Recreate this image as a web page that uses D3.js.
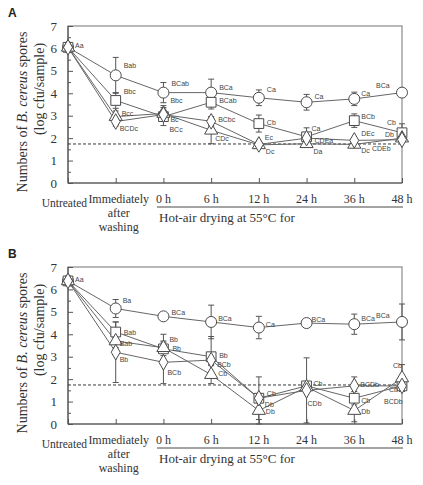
<!DOCTYPE html>
<html><head><meta charset="utf-8">
<script src="https://cdn.jsdelivr.net/npm/d3@7"></script>
<style>body{margin:0;background:#fff}</style>
</head><body>
<svg id="c" width="423" height="485"></svg>
<script>
const categories = ["Untreated","Immediately after washing","0 h","6 h","12 h","24 h","36 h","48 h"];
const yTicks = [0,1,2,3,4,5,6,7];
const detectionLimit = 1.74;
const xGroupTitle = "Hot-air drying at 55\u00B0C for";

// Panel A
const aCircle = [6.05, 4.8, 4.03, 4.03, 3.8, 3.6, 3.75, 4.03];
const aCircleErr = [0.05, 0.8, 0.45, 0.6, 0.35, 0.35, 0.3, 0];
const aCircleLbl = ["Aa","Bab","BCab","BCa","Ca","Ca","Ca","BCa"];
const aSquare = [6.05, 3.68, 2.96, 3.6, 2.65, 2.06, 2.78, 2.24];
const aSquareErr = [0.05, 0.35, 0.4, 0.3, 0.38, 0.4, 0.3, 0.4];
const aSquareLbl = ["","Bbc","BCc","BCab","Cb","Ca","BCb","Cb"];
const aTriangle = [6.05, 2.96, 3.1, 2.35, 1.7, 1.75, 1.72, 2.0];
const aTriangleErr = [0.05, 0.25, 0.35, 0.6, 0.05, 0.15, 0.08, 0.05];
const aTriangleLbl = ["","Bcc","Bbc","CDc","Dc","Da","Dc","Db"];
const aDiamond = [6.05, 2.74, 3.05, 2.75, 1.72, 2.0, 1.9, 1.93];
const aDiamondErr = [0.05, 0.2, 0.2, 0.2, 0.05, 0.1, 0.1, 0.05];
const aDiamondLbl = ["","BCDc","Bc","BCbc","Ec","CDEa","DEc","CDEb"];

// Panel B
const bCircle = [6.38, 5.15, 4.8, 4.55, 4.3, 4.5, 4.45, 4.55];
const bCircleErr = [0.05, 0.4, 0, 0.75, 0.5, 0, 0.45, 0.8];
const bCircleLbl = ["Aa","Ba","BCa","BCa","Ca","BCa","BCa","BCa"];
const bSquare = [6.38, 4.1, 3.35, 3.0, 1.15, 1.7, 1.15, 1.7];
const bSquareErr = [0.05, 0.45, 0.3, 0.9, 0.95, 0.1, 0.3, 0.1];
const bSquareLbl = ["","Bab","Bb","Bb","Cb","Cb","Cb","Cb"];
const bTriangle = [6.38, 3.7, 3.4, 2.2, 0.6, 1.65, 0.6, 2.05];
const bTriangleErr = [0.05, 0.3, 0.6, 0.4, 0.6, 0.1, 0.5, 0.6];
const bTriangleLbl = ["","Bab","Bb","Cb","Db","","Db","Cb"];
const bDiamond = [6.38, 3.2, 2.75, 2.85, 1.15, 1.5, 1.7, 1.7];
const bDiamondErr = [0.05, 1.35, 0.95, 0.2, 0.2, 1.45, 0.4, 0.2];
const bDiamondLbl = ["","Bb","BCb","BCb","Db","CDb","BCDb","BCDb"];

const panels = [
  {name:"A", top:26, bottom:183, series:[
    {shape:"circle", v:aCircle, e:aCircleErr, l:aCircleLbl},
    {shape:"square", v:aSquare, e:aSquareErr, l:aSquareLbl},
    {shape:"triangle", v:aTriangle, e:aTriangleErr, l:aTriangleLbl},
    {shape:"diamond", v:aDiamond, e:aDiamondErr, l:aDiamondLbl}],
   off:{ "circle-0":[7,-2], "circle-1":[8,-10], "circle-2":[8,-10], "circle-3":[8,-6], "circle-4":[8,-9], "circle-5":[8,-6], "circle-6":[7,-6], "circle-7":[-26,-8],
         "square-1":[8,-9], "square-2":[6,12], "square-3":[8,-2], "square-4":[8,-2], "square-5":[5,-9], "square-6":[7,-5], "square-7":[-15,-11],
         "triangle-1":[6,-4], "triangle-2":[7,-13], "triangle-3":[4,8], "triangle-4":[7,6], "triangle-5":[7,7], "triangle-6":[7,6], "triangle-7":[-17,-4],
         "diamond-1":[4,6], "diamond-2":[7,4], "diamond-3":[7,-2], "diamond-4":[6,-7], "diamond-5":[8,2], "diamond-6":[7,-7], "diamond-7":[-30,8]}},
  {name:"B", top:267, bottom:424, series:[
    {shape:"circle", v:bCircle, e:bCircleErr, l:bCircleLbl},
    {shape:"square", v:bSquare, e:bSquareErr, l:bSquareLbl},
    {shape:"triangle", v:bTriangle, e:bTriangleErr, l:bTriangleLbl},
    {shape:"diamond", v:bDiamond, e:bDiamondErr, l:bDiamondLbl}],
   off:{ "circle-0":[7,-2], "circle-1":[7,-8], "circle-2":[8,-4], "circle-3":[7,-4], "circle-4":[7,-4], "circle-5":[5,-4], "circle-6":[7,-6], "circle-7":[-26,-7],
         "square-1":[8,0], "square-2":[6,-10], "square-3":[8,-2], "square-4":[8,-5], "square-5":[7,-3], "square-6":[7,2], "square-7":[-13,3],
         "triangle-1":[4,2], "triangle-2":[9,0], "triangle-3":[7,-2], "triangle-4":[7,0], "triangle-6":[7,0], "triangle-7":[-9,-13],
         "diamond-1":[4,7], "diamond-2":[4,10], "diamond-3":[6,4], "diamond-4":[6,6], "diamond-5":[1,13], "diamond-6":[6,-2], "diamond-7":[-18,15]}}
];

const svg = d3.select("#c");
const x = d3.scalePoint().domain(categories).range([68, 402]).padding(0);
const serif = "'Liberation Serif','Times New Roman',serif";
const sym = {circle:d3.symbolCircle, square:d3.symbolSquare, triangle:d3.symbolTriangle, diamond:d3.symbolDiamond};
const symSize = {circle:95, square:95, triangle:75, diamond:70};
const markStroke = "#4a4a4a";

panels.forEach(p => {
  const g = svg.append("g");
  const y = d3.scaleLinear().domain([0,7]).range([p.bottom, p.top]);

  g.append("rect").attr("x",68).attr("y",p.top).attr("width",402-68).attr("height",p.bottom-p.top)
    .attr("fill","none").attr("stroke","#8a8a8a").attr("stroke-width",1.2);
  g.append("line").attr("x1",68).attr("x2",68).attr("y1",p.top).attr("y2",p.bottom).attr("stroke","#555").attr("stroke-width",1.2);
  g.append("line").attr("x1",68).attr("x2",402).attr("y1",p.bottom).attr("y2",p.bottom).attr("stroke","#555").attr("stroke-width",1.2);

  const yAxis = d3.axisRight(y).tickValues(yTicks).tickSize(5).tickFormat("");
  const ya = g.append("g").attr("transform","translate(68,0)").call(yAxis);
  ya.select(".domain").remove();
  ya.selectAll("line").attr("stroke","#555");
  const yMinor = d3.axisRight(y).tickValues(d3.range(0.5,7,1)).tickSize(3).tickFormat("");
  const ym = g.append("g").attr("transform","translate(68,0)").call(yMinor);
  ym.select(".domain").remove();
  ym.selectAll("line").attr("stroke","#555");
  g.selectAll(".ylab").data(yTicks).join("text")
    .attr("x",57).attr("y",d=>y(d)+4.5).attr("text-anchor","end")
    .attr("font-family",serif).attr("font-size",13).attr("fill","#333").text(d=>d);

  const xAxis = d3.axisTop(x).tickSize(5).tickFormat("");
  const xa = g.append("g").attr("transform",`translate(0,${p.bottom})`).call(xAxis);
  xa.select(".domain").remove();
  xa.selectAll("line").attr("stroke","#555");

  categories.forEach((c,i) => {
    const t = g.append("text").attr("font-family",serif).attr("font-size",12).attr("fill","#333").attr("text-anchor","middle");
    if (i===0) { t.attr("x",87).attr("y",p.bottom+24).attr("text-anchor","end").attr("font-size",11.5).text(c); }
    else if (i===1) {
      const lines = ["Immediately","after","washing"];
      lines.forEach((ln,k)=> t.append("tspan").attr("x",x(c)+3).attr("y",p.bottom+20+k*14).text(ln));
    } else { t.attr("x",x(c)).attr("y",p.bottom+20).text(c); }
  });
  g.append("line").attr("x1",157).attr("x2",403).attr("y1",p.bottom+24).attr("y2",p.bottom+24).attr("stroke","#333").attr("stroke-width",0.9);
  g.append("text").attr("x",159).attr("y",p.bottom+39).attr("font-family",serif).attr("font-size",13).attr("fill","#333").text(xGroupTitle);

  const t1 = g.append("text").attr("transform",`translate(27,${p.bottom-71}) rotate(-90)`).attr("text-anchor","middle")
    .attr("font-family",serif).attr("font-size",14).attr("fill","#333");
  t1.append("tspan").text("Numbers of ");
  t1.append("tspan").attr("font-style","italic").text("B. cereus");
  t1.append("tspan").text(" spores");
  g.append("text").attr("transform",`translate(44,${p.bottom-94}) rotate(-90)`).attr("text-anchor","middle")
    .attr("font-family",serif).attr("font-size",14).attr("fill","#333").text("(log cfu/sample)");

  g.append("text").attr("x",8).attr("y",p.top-9).attr("font-family","'Liberation Sans',Arial,sans-serif")
    .attr("font-weight","bold").attr("font-size",12).attr("fill","#222").text(p.name);

  g.append("line").attr("x1",68).attr("x2",402).attr("y1",y(detectionLimit)).attr("y2",y(detectionLimit))
    .attr("stroke","#222").attr("stroke-width",0.9).attr("stroke-dasharray","3,2");

  const line = d3.line().x((d,i)=>x(categories[i])).y(d=>y(d));
  p.series.forEach(s => {
    g.append("path").attr("d",line(s.v)).attr("fill","none").attr("stroke","#666").attr("stroke-width",1);
  });
  p.series.forEach(s => {
    s.v.forEach((v,i)=>{
      const e = s.e[i]; if (!e || e<0.06) return;
      const cx = x(categories[i]);
      g.append("line").attr("x1",cx).attr("x2",cx).attr("y1",y(v+e)).attr("y2",y(Math.max(0,v-e))).attr("stroke","#555").attr("stroke-width",1);
      [v+e, Math.max(0,v-e)].forEach(yy=> g.append("line").attr("x1",cx-3).attr("x2",cx+3).attr("y1",y(yy)).attr("y2",y(yy)).attr("stroke","#555").attr("stroke-width",1));
    });
  });
  p.series.forEach(s => {
    g.selectAll(null).data(s.v).join("path")
      .attr("transform",(d,i)=>`translate(${x(categories[i])},${y(d)})`)
      .attr("d", d3.symbol().type(sym[s.shape]).size(symSize[s.shape]))
      .attr("fill","#fff").attr("stroke",markStroke).attr("stroke-width",1);
  });
  p.series.forEach(s => {
    s.v.forEach((v,i)=>{
      if (!s.l[i]) return;
      const o = p.off[s.shape+"-"+i] || [7,-3];
      g.append("text").attr("x",x(categories[i])+o[0]).attr("y",y(v)+o[1]+3)
        .attr("font-family","'Liberation Sans',Arial,sans-serif").attr("font-size",7).attr("fill","#444").text(s.l[i]);
    });
  });
});
</script>
</body></html>
